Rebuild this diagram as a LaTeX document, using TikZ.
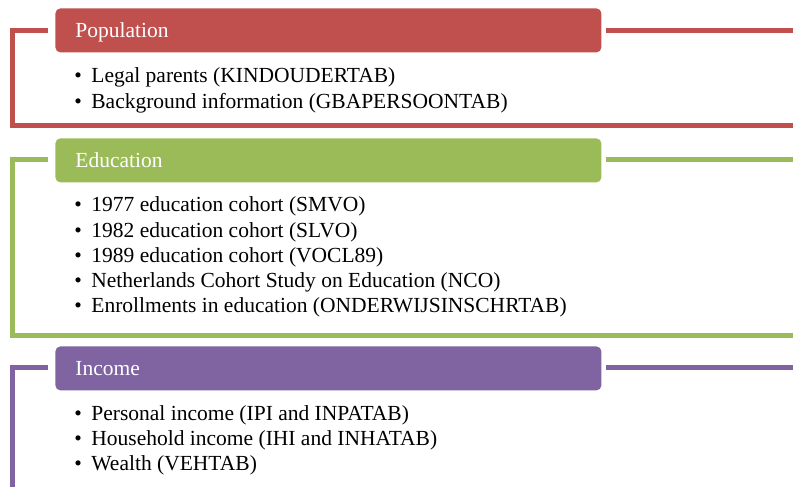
\documentclass[tikz,border=0pt]{standalone}
\usepackage{fontspec}
\setmainfont{Liberation Serif}
\definecolor{popred}{HTML}{C0504D}
\definecolor{edugreen}{HTML}{9BBB59}
\definecolor{incpurple}{HTML}{8064A2}

\begin{document}
\begin{tikzpicture}[x=0.5pt,y=-0.5pt,font=\fontsize{10.75}{12.7}\selectfont,
    frame/.style={line width=2.5pt},
    header/.style={fill=#1,text=white,rounded corners=2.5pt,anchor=north west,
      minimum width=273pt,minimum height=22pt,inner xsep=10pt,inner ysep=0pt,
      text width=253pt,align=left,text height=9pt,text depth=2.3pt},
    entry/.style={anchor=base west,inner sep=0pt}]
    \useasboundingbox (0,0) rectangle (793,487);
    % population
    \draw[frame,popred] (48,30.5) -- (12.5,30.5) -- (12.5,125.5) -- (793,125.5);
    \draw[frame,popred] (606,30.5) -- (793,30.5);
    \node[header=popred] (pop) at (55,8) {Population};
    \foreach \t [count=\i] in {Legal parents (KINDOUDERTAB),Background information (GBAPERSOONTAB)}
      \node[entry] (pop\i) at (74,{83+25.3*(\i-1)}) {\makebox[8.5pt][l]{\textbullet}\t};
    % education
    \draw[frame,edugreen] (48,159.5) -- (12.5,159.5) -- (12.5,335) -- (793,335);
    \draw[frame,edugreen] (606,159.5) -- (793,159.5);
    \node[header=edugreen] (edu) at (55,138) {Education};
    \foreach \t [count=\i] in {1977 education cohort (SMVO),1982 education cohort (SLVO),
        1989 education cohort (VOCL89),Netherlands Cohort Study on Education (NCO),
        Enrollments in education (ONDERWIJSINSCHRTAB)}
      \node[entry] (edu\i) at (74,{211.7+25.3*(\i-1)}) {\makebox[8.5pt][l]{\textbullet}\t};
    % income
    \draw[frame,incpurple] (48,367.5) -- (12.5,367.5) -- (12.5,487);
    \draw[frame,incpurple] (606,367.5) -- (793,367.5);
    \node[header=incpurple] (inc) at (55,346) {Income};
    \foreach \t [count=\i] in {Personal income (IPI and INPATAB),Household income (IHI and INHATAB),Wealth (VEHTAB)}
      \node[entry] (inc\i) at (74,{420+25.3*(\i-1)}) {\makebox[8.5pt][l]{\textbullet}\t};
\end{tikzpicture}
\end{document}
